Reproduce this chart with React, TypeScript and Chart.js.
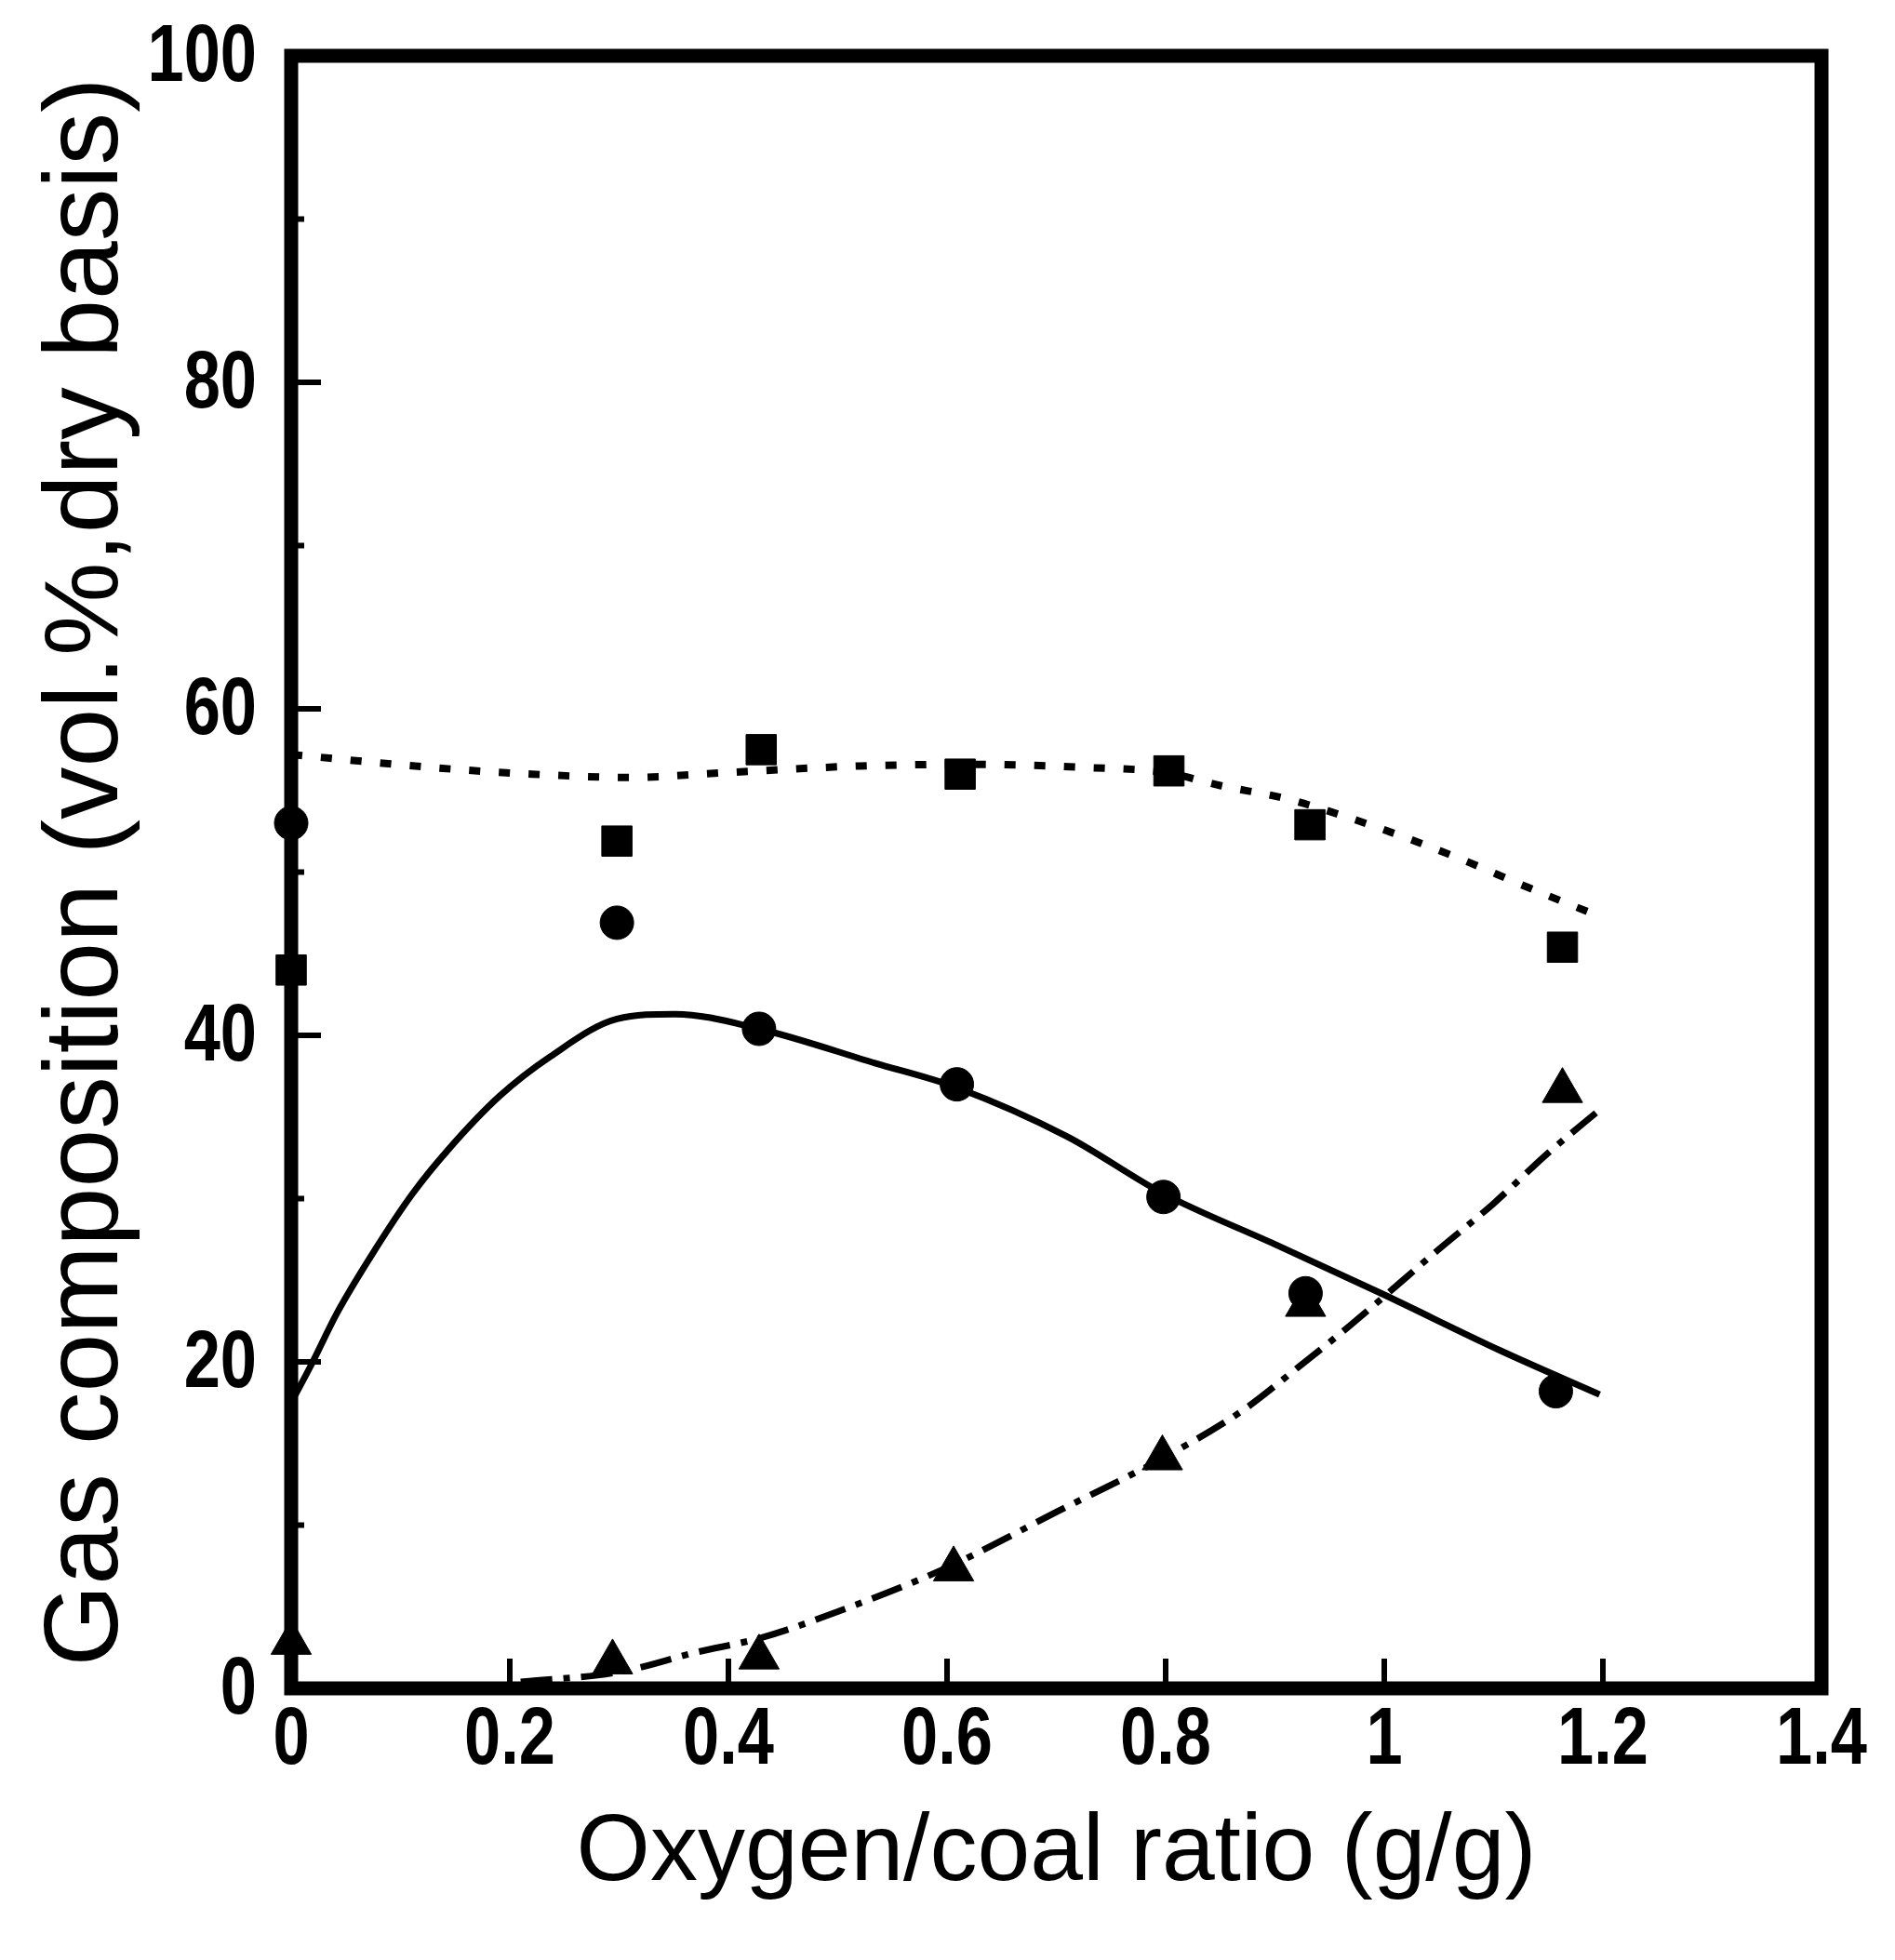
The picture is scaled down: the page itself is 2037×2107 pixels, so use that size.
import React, { useEffect, useRef } from "react";
import { Chart, registerables } from "chart.js";

Chart.register(...registerables);

// ---- axis ticks ----
const xTickValues = [0, 0.2, 0.4, 0.6, 0.8, 1.0, 1.2, 1.4];
const xTickLabels = ["0", "0.2", "0.4", "0.6", "0.8", "1", "1.2", "1.4"];
const yTickValues = [0, 20, 40, 60, 80, 100];
const yTickLabels = ["0", "20", "40", "60", "80", "100"];
const yMinorTicks = [10, 30, 50, 70, 90];

// ---- measured points ----
const squareX = [0, 0.298, 0.43, 0.612, 0.803, 0.932, 1.163];
const squareY = [44.0, 51.9, 57.5, 56.0, 56.2, 52.9, 45.4];

const circleX = [0, 0.298, 0.428, 0.609, 0.798, 0.928, 1.157];
const circleY = [53.0, 46.9, 40.4, 37.0, 30.1, 24.2, 18.2];

const triangleX = [0, 0.294, 0.428, 0.606, 0.797, 0.928, 1.163];
const triangleY = [2.8, 1.6, 1.9, 7.3, 14.1, 23.5, 36.6];

// ---- fitted curves ----
const dashCurveX = [0, 0.13, 0.22, 0.31, 0.4, 0.52, 0.62, 0.73, 0.8, 0.85, 0.91, 0.96, 1.02, 1.07, 1.13, 1.2];
const dashCurveY = [57.2, 56.4, 56.0, 55.8, 56.1, 56.5, 56.6, 56.4, 56.1, 55.3, 54.5, 53.5, 52.1, 50.8, 49.1, 47.2];

const solidCurveX = [0, 0.019, 0.042, 0.077, 0.111, 0.145, 0.191, 0.237, 0.298, 0.351, 0.428, 0.534, 0.609, 0.71, 0.798, 0.9, 0.997, 1.106, 1.197];
const solidCurveY = [17.5, 19.9, 23.0, 26.9, 30.3, 33.1, 36.3, 38.7, 41.0, 41.3, 40.4, 38.3, 36.8, 33.8, 30.3, 27.2, 24.2, 20.7, 18.0];

const dashDotCurveX = [0.21, 0.3, 0.37, 0.43, 0.5, 0.6, 0.7, 0.8, 0.87, 0.92, 0.97, 1.05, 1.1, 1.15, 1.2];
const dashDotCurveY = [0.4, 1.0, 2.2, 3.1, 4.7, 7.4, 10.8, 14.2, 17.0, 19.6, 22.3, 26.9, 29.7, 32.8, 35.6];

const xTitle = "Oxygen/coal ratio (g/g)";
const yTitle = "Gas composition (vol.%,dry basis)";

const TICK_FONT = "bold 88px 'Liberation Sans', Arial, sans-serif";
const TICK_SCALE_X = 0.8;
const TITLE_FONT = "'Liberation Sans', Arial, sans-serif";

const zip = (xs: number[], ys: number[]) => xs.map((x, i) => ({ x, y: ys[i] }));

const framePlugin = {
  id: "frame",
  afterDatasetsDraw(chart: any) {
    const { ctx, chartArea, scales } = chart;
    const { left, top, right, bottom } = chartArea;
    const x = scales.x;
    const y = scales.y;
    ctx.save();
    ctx.strokeStyle = "#000";
    ctx.lineWidth = 15;
    ctx.lineJoin = "miter";
    ctx.strokeRect(left, top, right - left, bottom - top);
    ctx.lineWidth = 6;
    ctx.beginPath();
    yTickValues.forEach((v) => {
      if (v === 0 || v === 100) return;
      const py = y.getPixelForValue(v);
      ctx.moveTo(left, py);
      ctx.lineTo(left + 32, py);
    });
    yMinorTicks.forEach((v) => {
      const py = y.getPixelForValue(v);
      ctx.moveTo(left, py);
      ctx.lineTo(left + 14, py);
    });
    xTickValues.forEach((v) => {
      if (v === 0 || v === 1.4) return;
      const px = x.getPixelForValue(v);
      ctx.moveTo(px, bottom);
      ctx.lineTo(px, bottom - 32);
    });
    ctx.stroke();

    // condensed tick labels, placed by the scales
    ctx.fillStyle = "#000";
    ctx.font = TICK_FONT;
    ctx.textBaseline = "middle";
    yTickValues.forEach((v, i) => {
      const py = y.getPixelForValue(v);
      ctx.save();
      ctx.translate(left - 37, py + 3);
      ctx.scale(TICK_SCALE_X, 1);
      ctx.textAlign = "right";
      ctx.fillText(yTickLabels[i], 0, 0);
      ctx.restore();
    });
    xTickValues.forEach((v, i) => {
      const px = x.getPixelForValue(v);
      ctx.save();
      ctx.translate(px, bottom + 57);
      ctx.scale(TICK_SCALE_X, 1);
      ctx.textAlign = "center";
      ctx.fillText(xTickLabels[i], 0, 0);
      ctx.restore();
    });
    ctx.restore();
  },
};

export default function App() {
  const ref = useRef<HTMLCanvasElement | null>(null);

  useEffect(() => {
    document.body.style.margin = "0";
    document.body.style.overflow = "hidden";
    const canvas = ref.current;
    if (!canvas) return;
    const chart = new Chart(canvas, {
      type: "line",
      data: {
        datasets: [
          {
            data: zip(dashCurveX, dashCurveY),
            borderColor: "#000",
            borderWidth: 8,
            borderDash: [12, 20],
            pointRadius: 0,
            cubicInterpolationMode: "monotone",
            fill: false,
            clip: false,
          },
          {
            data: zip(solidCurveX, solidCurveY),
            borderColor: "#000",
            borderWidth: 7,
            pointRadius: 0,
            cubicInterpolationMode: "monotone",
            fill: false,
            clip: false,
          },
          {
            data: zip(dashDotCurveX, dashDotCurveY),
            borderColor: "#000",
            borderWidth: 7,
            borderDash: [34, 12, 7, 12],
            pointRadius: 0,
            cubicInterpolationMode: "monotone",
            fill: false,
            clip: false,
          },
          {
            data: zip(squareX, squareY),
            showLine: false,
            pointStyle: "rect",
            pointRadius: 23,
            pointBackgroundColor: "#000",
            pointBorderColor: "#000",
            pointBorderWidth: 1,
            clip: false,
          },
          {
            data: zip(circleX, circleY),
            showLine: false,
            pointStyle: "circle",
            pointRadius: 18,
            pointBackgroundColor: "#000",
            pointBorderColor: "#000",
            pointBorderWidth: 1,
            clip: false,
          },
          {
            data: zip(triangleX, triangleY),
            showLine: false,
            pointStyle: "triangle",
            pointRadius: 25,
            pointBackgroundColor: "#000",
            pointBorderColor: "#000",
            pointBorderWidth: 1,
            clip: false,
          },
        ] as any,
      },
      options: {
        responsive: false,
        animation: false,
        devicePixelRatio: 1,
        layout: { padding: { left: 0, top: 60, right: 79, bottom: 0 } },
        plugins: {
          legend: { display: false },
          tooltip: { enabled: false },
        },
        scales: {
          x: {
            type: "linear",
            min: 0,
            max: 1.4,
            grid: { display: false, drawTicks: false },
            border: { display: false },
            afterFit: (s: any) => {
              s.height = 292;
            },
            afterBuildTicks: (s: any) => {
              s.ticks = xTickValues.map((value) => ({ value }));
            },
            ticks: { display: false },
            title: {
              display: true,
              text: xTitle,
              color: "#000",
              font: { family: TITLE_FONT, size: 102, lineHeight: 1.2 },
              padding: { top: 0, bottom: 53 },
            },
          },
          y: {
            type: "linear",
            min: 0,
            max: 100,
            grid: { display: false, drawTicks: false },
            border: { display: false },
            afterFit: (s: any) => {
              s.width = 313;
            },
            afterBuildTicks: (s: any) => {
              s.ticks = yTickValues.map((value) => ({ value }));
            },
            ticks: { display: false },
            title: {
              display: true,
              text: yTitle,
              color: "#000",
              font: { family: TITLE_FONT, size: 113, lineHeight: 1.2 },
              padding: { top: 27, bottom: 0 },
            },
          },
        },
      } as any,
      plugins: [framePlugin],
    });
    return () => chart.destroy();
  }, []);

  return (
    <div style={{ position: "absolute", left: 0, top: 0, width: 2037, height: 2107, background: "#fff" }}>
      <canvas ref={ref} width={2037} height={2107} style={{ display: "block", width: 2037, height: 2107 }} />
    </div>
  );
}
